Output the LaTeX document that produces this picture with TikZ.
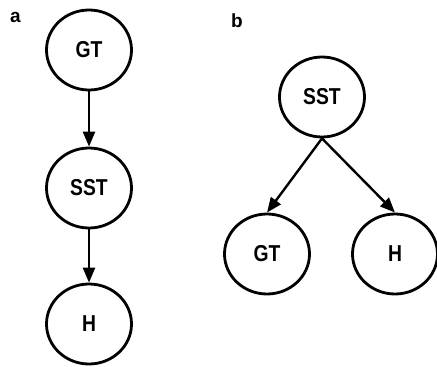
\documentclass[tikz,border=0pt]{standalone}
\usepackage{fontspec}
\setmainfont{Liberation Sans}
\usetikzlibrary{shapes.geometric,arrows.meta}

\tikzset{
  varnode/.style={draw, line width=2.8pt, ellipse, minimum width=85pt, minimum height=80pt,
    inner sep=0pt, font=\fontsize{23}{23}\selectfont\bfseries},
  panel/.style={anchor=north west, inner sep=0pt, font=\fontsize{19}{19}\selectfont\bfseries},
  link/.style={line width=2.4pt, -{Triangle[length=15pt,width=12pt]}}
}

\begin{document}
\begin{tikzpicture}[x=1pt, y=-1pt]
\useasboundingbox (0,0) rectangle (437,367);

% Panel a: chain
\node[panel] (labA) at (10,12) {a};
\node[varnode] (gtA) at (89,50) {\scalebox{0.84}[1]{GT}};
\node[varnode] (sstA) at (89,188) {\scalebox{0.84}[1]{SST}};
\node[varnode] (hA) at (89,324) {\scalebox{0.84}[1]{H}};
\draw[link] (gtA) -- (sstA);
\draw[link] (sstA) -- (hA);

% Panel b: common cause
\node[panel] (labB) at (231,14) {b};
\node[varnode] (sstB) at (322,97) {\scalebox{0.84}[1]{SST}};
\node[varnode] (gtB) at (267,254) {\scalebox{0.84}[1]{GT}};
\node[varnode] (hB) at (395,254) {\scalebox{0.84}[1]{H}};
\draw[link] (sstB.south) -- (gtB.north);
\draw[link] (sstB.south) -- (hB.north);
\end{tikzpicture}
\end{document}
